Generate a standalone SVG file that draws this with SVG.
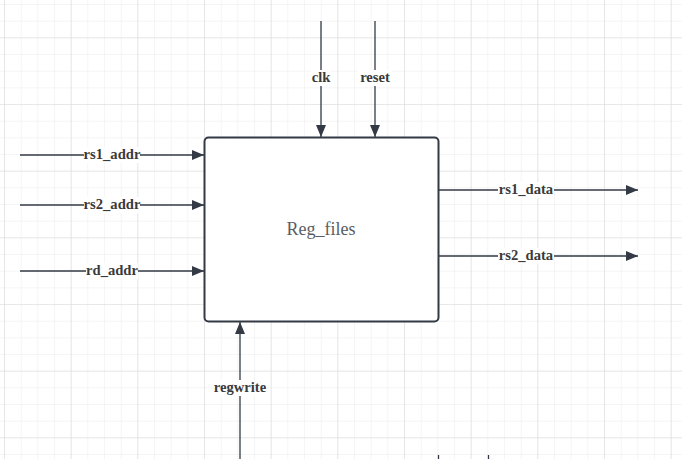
<svg xmlns="http://www.w3.org/2000/svg" width="682" height="459" viewBox="0 0 682 459">
<defs>
<pattern id="minor" x="4" y="4" width="16.667" height="16.667" patternUnits="userSpaceOnUse">
<path d="M0 0H16.667M0 0V16.667" fill="none" stroke="#ececec" stroke-width="1"/>
</pattern>
<pattern id="major" x="4" y="37.33" width="66.667" height="66.667" patternUnits="userSpaceOnUse">
<path d="M0 0H66.667M0 0V66.667" fill="none" stroke="#dcdcdc" stroke-width="1.2"/>
</pattern>
<marker id="arr" viewBox="0 0 12 10" refX="12" refY="5" markerWidth="12" markerHeight="10" markerUnits="userSpaceOnUse" orient="auto">
<path d="M0 0L12 5L0 10Z" fill="#333a45"/>
</marker>
</defs>
<style>
.wire{stroke:#333a45;stroke-width:1.3;fill:none}
.lbl{font-family:"Liberation Serif",serif;font-weight:bold;font-size:14.6px;fill:#3a3a3a;text-anchor:middle}
.bg{fill:#fff}
</style>
<rect width="682" height="459" fill="#fff"/>
<rect width="682" height="459" fill="url(#minor)"/>
<rect width="682" height="459" fill="url(#major)"/>
<g id="connectors">
<line class="wire" x1="20" y1="155" x2="204" y2="155" marker-end="url(#arr)"/>
<line class="wire" x1="20" y1="205" x2="204" y2="205" marker-end="url(#arr)"/>
<line class="wire" x1="20" y1="271" x2="204" y2="271" marker-end="url(#arr)"/>
<line class="wire" x1="439" y1="190" x2="638" y2="190" marker-end="url(#arr)"/>
<line class="wire" x1="439" y1="256" x2="638" y2="256" marker-end="url(#arr)"/>
<line class="wire" x1="321" y1="21" x2="321" y2="137" marker-end="url(#arr)"/>
<line class="wire" x1="375" y1="21" x2="375" y2="137" marker-end="url(#arr)"/>
<line class="wire" x1="240" y1="459" x2="240" y2="322" marker-end="url(#arr)"/>
<line class="wire" x1="438.5" y1="455" x2="438.5" y2="459"/>
<line class="wire" x1="488.5" y1="455" x2="488.5" y2="459"/>
<rect class="bg" x="84" y="147" width="56" height="16"/>
<text class="lbl" x="112" y="159">rs1_addr</text>
<rect class="bg" x="84" y="197" width="56" height="16"/>
<text class="lbl" x="112" y="209">rs2_addr</text>
<rect class="bg" x="86" y="263" width="52" height="16"/>
<text class="lbl" x="112" y="275">rd_addr</text>
<rect class="bg" x="498" y="182" width="56" height="16"/>
<text class="lbl" x="526" y="194">rs1_data</text>
<rect class="bg" x="498" y="248" width="56" height="16"/>
<text class="lbl" x="526" y="260">rs2_data</text>
<rect class="bg" x="311" y="70" width="20" height="16"/>
<text class="lbl" x="321" y="82">clk</text>
<rect class="bg" x="358" y="70" width="34" height="16"/>
<text class="lbl" x="375" y="82">reset</text>
<rect class="bg" x="213" y="380" width="54" height="16"/>
<text class="lbl" x="240" y="392">regwrite</text>
</g>
<g id="reg_files">
<rect x="204.5" y="137.5" width="234" height="184" rx="4" fill="#fff" stroke="#333a45" stroke-width="2"/>
<text x="321" y="235" font-family="'Liberation Serif',serif" font-size="18" fill="#5a5d63" text-anchor="middle">Reg_files</text>
</g>
</svg>
